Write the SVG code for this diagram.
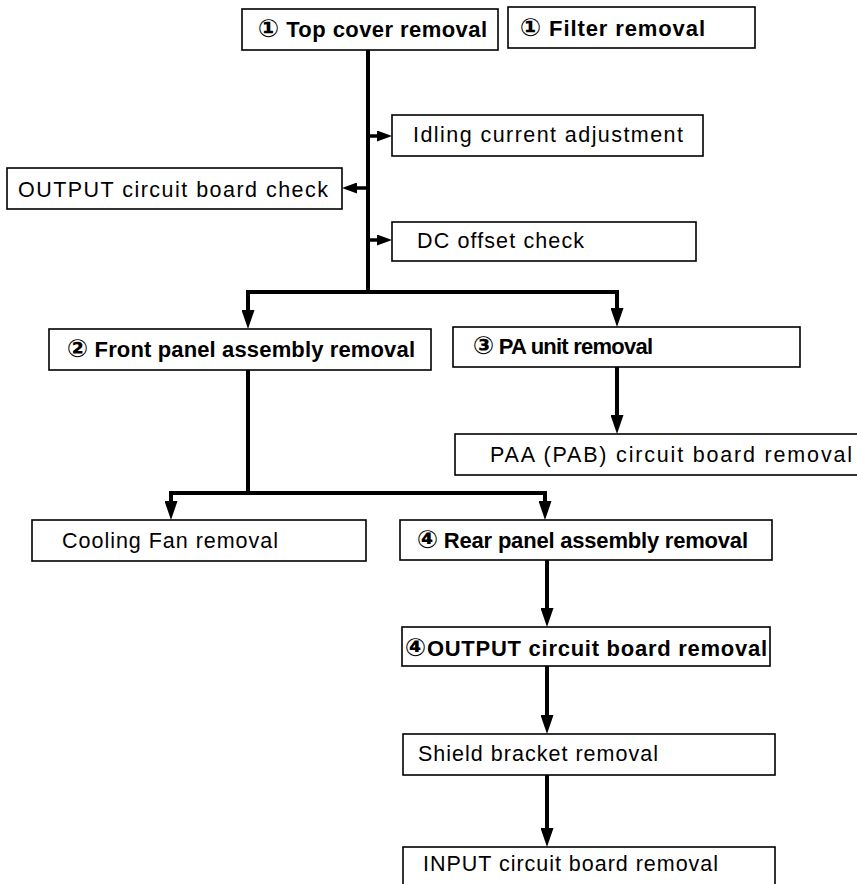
<svg xmlns="http://www.w3.org/2000/svg" width="857" height="884" viewBox="0 0 857 884">
<style>
.box{fill:#fff;stroke:#000;stroke-width:1.6}
.t{font-family:"Liberation Sans","DejaVu Sans","Noto Sans CJK JP",sans-serif;font-size:21.5px;fill:#000}
.b{font-weight:bold;font-size:22px}
.n{font-size:25px}
.c{fill:none;stroke:#000;stroke-width:4}
.s{fill:none;stroke:#000;stroke-width:3.5}
</style>
<defs>
<marker id="ah" markerUnits="userSpaceOnUse" markerWidth="20" markerHeight="13" refX="5" refY="6.5" orient="auto">
<path d="M0,0 L19,6.5 L0,13 z" fill="#000"/>
</marker>
<marker id="as" markerUnits="userSpaceOnUse" markerWidth="16" markerHeight="11" refX="4" refY="5.5" orient="auto">
<path d="M0,0 L15,5.5 L0,11 z" fill="#000"/>
</marker>
</defs>
<rect width="857" height="884" fill="#fff"/>
<g id="connectors">
<path class="c" d="M368,50 V292"/>
<path class="s" d="M368,136 H381" marker-end="url(#as)"/>
<path class="s" d="M368,188 H353" marker-end="url(#as)"/>
<path class="s" d="M368,240 H381" marker-end="url(#as)"/>
<path class="c" d="M368,292 H248 V315" marker-end="url(#ah)"/>
<path class="c" d="M368,292 H617 V313" marker-end="url(#ah)"/>
<path class="c" d="M617,367 V420" marker-end="url(#ah)"/>
<path class="c" d="M248,370 V493"/>
<path class="c" d="M248,493 H171 V506" marker-end="url(#ah)"/>
<path class="c" d="M248,493 H545 V506" marker-end="url(#ah)"/>
<path class="c" d="M547,560 V613" marker-end="url(#ah)"/>
<path class="c" d="M547,666 V720" marker-end="url(#ah)"/>
<path class="c" d="M547,775 V833" marker-end="url(#ah)"/>
</g>
<g id="top-cover"><rect class="box" x="242" y="9" width="256" height="41"/><text class="t b" x="258" y="37" textLength="229"><tspan class="n">①</tspan> Top cover removal</text></g>
<g id="filter"><rect class="box" x="508" y="7" width="247" height="41"/><text class="t b" x="520" y="36" textLength="185"><tspan class="n">①</tspan> Filter removal</text></g>
<g id="idling"><rect class="box" x="392" y="115" width="311" height="41"/><text class="t" x="413" y="142" textLength="270">Idling current adjustment</text></g>
<g id="output-check"><rect class="box" x="7" y="168" width="335" height="41"/><text class="t" x="18" y="197" textLength="310">OUTPUT circuit board check</text></g>
<g id="dc-offset"><rect class="box" x="392" y="222" width="304" height="39"/><text class="t" x="417" y="248" textLength="167">DC offset check</text></g>
<g id="front-panel"><rect class="box" x="49" y="329" width="382" height="41"/><text class="t b" x="67" y="357" textLength="348"><tspan class="n">②</tspan> Front panel assembly removal</text></g>
<g id="pa-unit"><rect class="box" x="453" y="327" width="347" height="40"/><text class="t b" x="473" y="354" textLength="180"><tspan class="n">③</tspan> PA unit removal</text></g>
<g id="paa-board"><rect class="box" x="455" y="434" width="420" height="41"/><text class="t" x="490" y="462" textLength="362">PAA (PAB) circuit board removal</text></g>
<g id="cooling-fan"><rect class="box" x="32" y="520" width="334" height="41"/><text class="t" x="62" y="548" textLength="216">Cooling Fan removal</text></g>
<g id="rear-panel"><rect class="box" x="400" y="520" width="372" height="40"/><text class="t b" x="417" y="548" textLength="331"><tspan class="n">④</tspan> Rear panel assembly removal</text></g>
<g id="output-removal"><rect class="box" x="402" y="627" width="368" height="39"/><text class="t b" x="405" y="656" textLength="362"><tspan class="n">④</tspan>OUTPUT circuit board removal</text></g>
<g id="shield-bracket"><rect class="box" x="403" y="734" width="372" height="41"/><text class="t" x="418" y="761" textLength="240">Shield bracket removal</text></g>
<g id="input-board"><rect class="box" x="403" y="847" width="372" height="50"/><text class="t" x="423" y="871" textLength="295">INPUT circuit board removal</text></g>
</svg>
